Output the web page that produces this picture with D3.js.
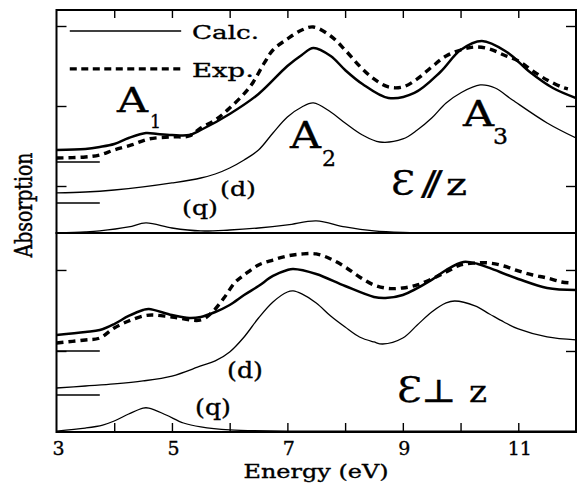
<!DOCTYPE html>
<html><head><meta charset="utf-8">
<script src="https://cdn.jsdelivr.net/npm/d3@7"></script>
<style>
body{margin:0;background:#fff}
svg{display:block}
text{font-family:"DejaVu Serif",serif;fill:#000;stroke:#000;stroke-width:0.35}
</style>
</head><body>
<svg id="chart" width="578" height="488"></svg>
<script>
// ---------- data (energy in eV, absorption in arbitrary units) ----------
const energyTicks = [3,4,5,6,7,8,9,10,11,12];
const energyLabels = [3,5,7,9,11];
const parTicks = [6,16,26];
const perTicks = [10,20];

// E // z panel
const parCalcE = [3.0,3.5,3.75,4.0,4.25,4.55,4.75,5.0,5.3,5.5,6.0,6.5,7.0,7.25,7.45,7.75,8.0,8.3,8.75,9.2,9.65,10.0,10.37,10.8,11.2,11.6,12.0];
const parCalc  = [10.5,10.63,10.88,11.25,12.0,12.63,12.5,12.38,12.38,13.0,15.0,17.5,21.0,22.38,23.25,22.25,20.5,18.75,17.0,17.63,20.25,23.0,24.13,22.75,20.25,18.25,17.0];
const parExpE  = [3.0,3.5,3.75,4.0,4.3,4.6,5.0,5.3,5.5,5.75,6.0,6.35,6.6,6.75,7.0,7.25,7.45,7.75,8.0,8.25,8.5,8.75,9.0,9.25,9.5,9.75,10.0,10.25,10.5,10.75,11.0,11.25,11.5,11.75,11.86];
const parExp   = [9.5,9.63,9.88,10.5,11.13,11.88,12.13,12.25,13.25,14.25,15.75,18.38,21.38,23.0,24.38,25.5,25.88,24.75,23.0,21.0,19.38,18.38,18.38,19.38,20.88,22.25,23.0,23.38,23.13,22.38,21.63,20.38,19.25,18.38,18.13];
const parDE    = [3.0,3.5,4.0,4.5,5.0,5.5,5.75,6.0,6.25,6.5,6.75,7.0,7.25,7.45,7.75,8.0,8.3,8.6,9.0,9.25,9.5,9.75,10.0,10.34,10.6,10.9,11.5,12.0];
const parD     = [5.13,5.25,5.5,5.88,6.38,7.0,7.5,8.25,9.25,10.5,12.63,14.63,15.88,16.38,15.25,13.88,12.38,11.5,11.88,13.0,14.5,16.38,17.63,18.63,18.25,16.75,13.88,12.0];
const parQE    = [3.0,3.5,3.75,4.25,4.55,5.0,5.5,6.0,6.5,7.0,7.5,8.0,8.5,9.0,10.0,12.0];
const parQ     = [0.13,0.25,0.38,0.88,1.38,0.75,0.38,0.5,0.75,1.13,1.63,0.88,0.38,0.19,0.13,0.13];
const parBaselines = [9.0, 3.88];

// E _|_ z panel
const perCalcE = [3.0,3.5,3.75,4.0,4.25,4.5,4.6,5.0,5.3,5.5,5.75,6.0,6.25,6.5,6.75,7.0,7.1,7.5,8.0,8.5,8.7,9.0,9.5,9.75,10.05,10.3,10.5,11.0,11.5,12.0];
const perCalc  = [11.98,12.35,12.59,13.33,14.32,15.06,15.19,14.44,14.07,14.2,14.81,15.68,16.91,18.02,19.26,20.0,20.12,19.51,18.02,16.67,16.54,16.91,18.77,20.0,20.99,20.74,20.25,18.89,17.78,17.53];
const perExpE  = [3.0,3.5,3.75,4.0,4.25,4.5,4.65,5.0,5.5,5.7,5.9,6.1,6.25,6.5,6.75,7.0,7.25,7.5,7.75,8.0,8.25,8.5,8.75,9.0,9.25,9.5,9.75,10.0,10.25,10.5,10.75,11.0,11.25,11.5,11.75,11.9];
const perExp   = [10.99,11.36,11.6,12.84,13.7,14.32,14.44,14.2,13.83,14.81,16.54,18.52,19.38,20.62,21.23,21.73,21.98,21.98,21.36,20.37,19.14,18.15,17.72,17.78,18.15,18.89,19.75,20.62,20.86,20.86,20.49,19.88,19.38,19.01,18.52,18.4];
const perDE    = [3.0,3.5,4.0,4.5,5.0,5.5,5.75,6.0,6.25,6.5,6.75,7.0,7.1,7.25,7.5,7.75,8.0,8.25,8.5,8.65,9.0,9.25,9.5,9.75,9.9,10.25,10.5,10.75,11.0,11.5,12.0];
const perD     = [5.43,5.68,5.93,6.3,6.91,8.15,8.77,9.88,11.73,14.07,16.05,17.28,17.41,17.04,15.93,14.32,12.96,11.73,11.11,10.86,11.6,13.21,14.81,15.93,16.17,15.56,14.57,13.58,12.72,11.73,11.36];
const perQE    = [3.0,3.5,3.8,4.0,4.25,4.5,4.6,4.9,5.2,5.5,6.0,7.0,12.0];
const perQ     = [0.12,0.49,0.86,1.36,2.22,2.96,2.96,2.1,1.11,0.62,0.25,0.12,0.12];
const perBaselines = [10.0, 4.57];
const baselineMarkEnd = 3.75;

// legend
const legendItems = ["Calc.", "Exp."];

// ---------- layout ----------
const svg = d3.select("#chart");
const L = 56.5, R = 576, T = 10, M = 233, B = 432;
const x = d3.scaleLinear().domain([3,12]).range([L,R]);
const yU = d3.scaleLinear().domain([0,28]).range([234,T]);
const yL = d3.scaleLinear().domain([0,24.44]).range([B,234]);

const zip = (a,b) => a.map((e,i)=>[e,b[i]]);
const lineGen = y => d3.line().x(d=>x(d[0])).y(d=>y(d[1])).curve(d3.curveCatmullRom.alpha(0.5));

const styles = {
  calc: {w:2.5, dash:null},
  exp:  {w:3.4, dash:"7,5"},
  thin: {w:1.3, dash:null}
};

function drawSeries(g, y, E, V, st){
  g.append("path").datum(zip(E,V))
    .attr("d", lineGen(y))
    .attr("fill","none").attr("stroke","#000")
    .attr("stroke-width", st.w)
    .attr("stroke-dasharray", st.dash)
    .attr("stroke-linejoin","round");
}

function panel(y0, y1, y, ticks, series, baselines){
  const g = svg.append("g");
  const cp = "clip"+y0;
  g.append("clipPath").attr("id",cp).append("rect")
    .attr("x",L).attr("y",y0).attr("width",R-L).attr("height",y1-y0);
  const gc = g.append("g").attr("clip-path",`url(#${cp})`);
  series.forEach(s => drawSeries(gc, y, s[0], s[1], s[2]));
  baselines.forEach(b => {
    gc.append("line").attr("x1",x(3)).attr("x2",x(baselineMarkEnd))
      .attr("y1",y(b)).attr("y2",y(b)).attr("stroke","#000").attr("stroke-width",1.4);
  });
  const la = g.append("g").attr("transform",`translate(${L},0)`)
    .call(d3.axisLeft(y).tickValues(ticks).tickSize(-10).tickFormat(""));
  const ra = g.append("g").attr("transform",`translate(${R},0)`)
    .call(d3.axisRight(y).tickValues(ticks).tickSize(-10).tickFormat(""));
  [la,ra].forEach(a=>{a.select(".domain").remove(); a.selectAll("line").attr("stroke-width",1.4);});
  g.append("rect").attr("x",L).attr("y",y0).attr("width",R-L).attr("height",y1-y0)
    .attr("fill","none").attr("stroke","#000").attr("stroke-width",2);
  return g;
}

panel(T, M, yU, parTicks, [
  [parQE, parQ, styles.thin],
  [parDE, parD, styles.thin],
  [parExpE, parExp, styles.exp],
  [parCalcE, parCalc, styles.calc]
], parBaselines);

panel(M, B, yL, perTicks, [
  [perQE, perQ, styles.thin],
  [perDE, perD, styles.thin],
  [perExpE, perExp, styles.exp],
  [perCalcE, perCalc, styles.calc]
], perBaselines);

// top & bottom x axes (inward ticks)
const ta = svg.append("g").attr("transform",`translate(0,${T})`)
  .call(d3.axisTop(x).tickValues(energyTicks.slice(1,-1)).tickSize(-8).tickFormat(""));
const ba = svg.append("g").attr("transform",`translate(0,${B})`)
  .call(d3.axisBottom(x).tickValues(energyTicks.slice(1,-1)).tickSize(-9).tickPadding(10)
    .tickFormat(d => energyLabels.includes(d) ? d : ""));
[ta,ba].forEach(a=>{a.select(".domain").remove(); a.selectAll("line").attr("stroke-width",1.4);});
ba.selectAll("text").attr("font-size",19).attr("font-family","DejaVu Serif").attr("dx",1)
  .attr("stroke","#000").attr("stroke-width",0.35);
// label for 3 (at the left edge of the axis)
svg.append("text").attr("x",x(3)+2).attr("y",B+10).attr("dy","0.71em").attr("text-anchor","middle")
  .attr("font-size",19).text(energyLabels[0]);

// legend
const legY = [yU(25.38), yU(20.63)];
legendItems.forEach((t,i)=>{
  svg.append("line").attr("x1",x(3.23)).attr("x2",x(5.16))
    .attr("y1",legY[i]).attr("y2",legY[i]).attr("stroke","#000")
    .attr("stroke-width", i===0 ? 1.6 : 3.2)
    .attr("stroke-dasharray", i===0 ? null : "7,4.5");
});

function label(s, px, py, fs, w, extra){
  const t = svg.append("text").attr("x",px).attr("y",py).attr("font-size",fs).text(s);
  if (w) t.attr("textLength",w).attr("lengthAdjust","spacingAndGlyphs");
  if (extra) extra(t);
  return t;
}
label(legendItems[0], 192, 39, 19, 67);
label(legendItems[1], 192, 77, 19, 62);

// peak labels
label("A", 117, 112, 34, 31); label("1", 150, 128, 18, 11);
label("A", 290, 148, 37, 31); label("2", 322, 166, 22, 14);
label("A", 463, 126, 35, 31); label("3", 493, 144, 22, 15);

// component labels
label("(d)", 220, 196, 21, 36);
label("(q)", 182, 215, 21, 36);
label("(d)", 227, 378, 22, 36);
label("(q)", 195, 415, 22, 36);

// polarization labels
label("\u0190", 391, 195, 34, 24, t=>t.attr("stroke-width",0.6));
svg.append("text").attr("transform","translate(419,195) skewX(-24)")
  .attr("font-size",30).attr("font-weight","bold").attr("font-family","DejaVu Sans").text("\u2225");
label("z", 446, 195, 30, 21);
label("\u0190", 397, 402, 36, 25, t=>t.attr("stroke-width",0.6));
label("\u22A5", 421, 402, 32, 35, t=>t.attr("font-family","DejaVu Sans"));
label("z", 469, 402, 30, 18);

// axis titles
svg.append("text").attr("transform","translate(32,205) scale(1.38,1) rotate(-90)")
  .attr("text-anchor","middle").attr("font-size",17)
  .attr("textLength",105).attr("lengthAdjust","spacingAndGlyphs").text("Absorption");
svg.append("text").attr("x",316).attr("y",478).attr("text-anchor","middle")
  .attr("font-size",18.5).attr("textLength",145).attr("lengthAdjust","spacingAndGlyphs")
  .text("Energy (eV)");
</script>
</body></html>
